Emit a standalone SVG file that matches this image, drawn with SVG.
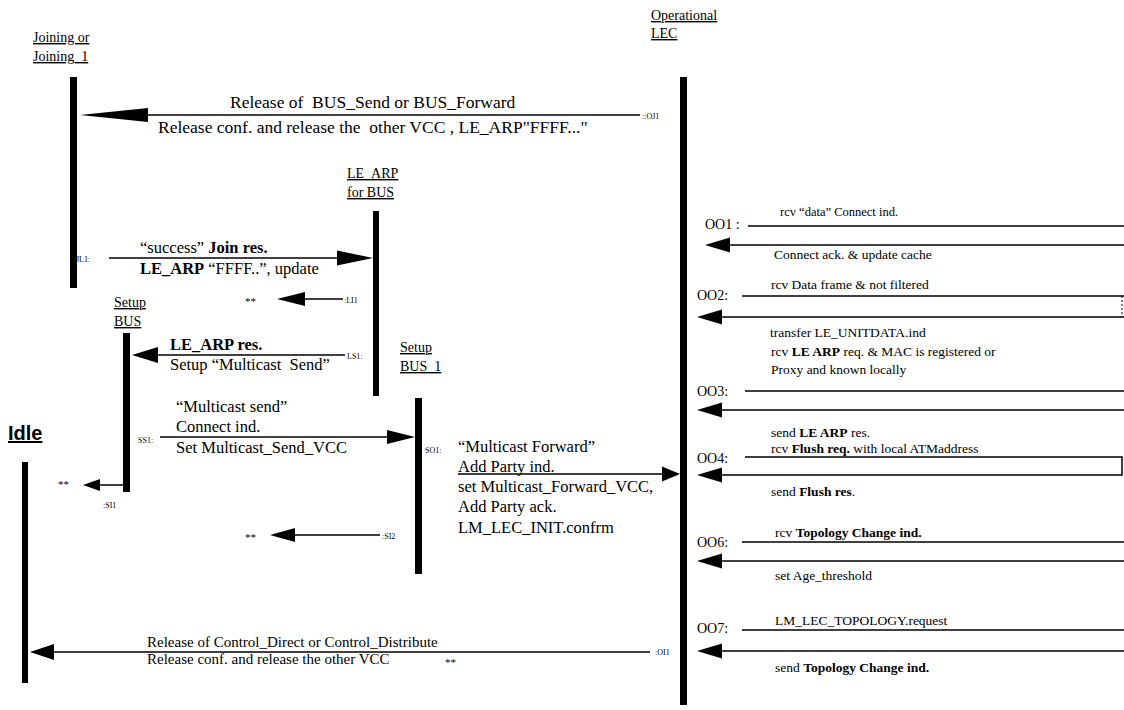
<svg xmlns="http://www.w3.org/2000/svg" width="1124" height="710" viewBox="0 0 1124 710">
<style>
text{font-family:"Liberation Serif","Times New Roman",serif;fill:#000;white-space:pre}
.t{font-size:16.5px}
.r{font-size:13.5px}
.s{font-size:8px}
.h{font-size:14px;text-decoration:underline}
.b{font-weight:bold}
.idle{font-family:"Liberation Sans",Arial,sans-serif;font-size:20px;font-weight:bold;text-decoration:underline}
.bar{fill:#000}
.ln{stroke:#000;stroke-width:1.5;fill:none}
.ah{fill:#000}
</style>
<rect width="1124" height="710" fill="#fff"/>
<g id="joining">
<text class="h" x="33" y="42">Joining or</text>
<text class="h" x="33" y="61">Joining_1</text>
<rect class="bar" x="70" y="77" width="7" height="211"/>
</g>
<g id="operational-lec">
<text class="h" x="651" y="20">Operational</text>
<text class="h" x="651" y="38">LEC</text>
<rect class="bar" x="680" y="77" width="7" height="628"/>
</g>
<g id="le-arp-for-bus">
<text class="h" x="347" y="178">LE_ARP</text>
<text class="h" x="347" y="197">for BUS</text>
<rect class="bar" x="373" y="211" width="6" height="185"/>
</g>
<g id="setup-bus">
<text class="h" x="114" y="307">Setup</text>
<text class="h" x="114" y="326">BUS</text>
<rect class="bar" x="123" y="333" width="7" height="159"/>
</g>
<g id="setup-bus-1">
<text class="h" x="400" y="352">Setup</text>
<text class="h" x="400" y="371">BUS_1</text>
<rect class="bar" x="415" y="398" width="7" height="176"/>
</g>
<g id="idle">
<text class="idle" x="8" y="440">Idle</text>
<rect class="bar" x="22" y="462" width="6" height="221"/>
</g>
<g id="connectors">
<!-- OJ1 -->
<line class="ln" x1="100" y1="115" x2="640" y2="115"/>
<polygon class="ah" points="80,115 148,108 148,122"/>
<text x="230" y="108" style="font-size:17.5px">Release of  BUS_Send or BUS_Forward</text>
<text x="158" y="133" style="font-size:17.5px">Release conf. and release the  other VCC , LE_ARP"FFFF..."</text>
<text class="s" x="642" y="119">::OJ1</text>
<!-- JL1 -->
<line class="ln" x1="109" y1="258" x2="340" y2="258"/>
<polygon class="ah" points="373,258 337,250.5 337,265.5"/>
<text class="s" x="76" y="262">JL1:</text>
<text class="t" x="140" y="253">“success” <tspan class="b">Join res.</tspan></text>
<text class="t" x="140" y="274"><tspan class="b">LE_ARP</tspan> “FFFF..”, update</text>
<!-- LI1 -->
<line class="ln" x1="303" y1="299" x2="343" y2="299"/>
<polygon class="ah" points="277,299 305,292 305,306"/>
<text class="s" x="344" y="303">:LI1</text>
<text x="245" y="305" style="font-size:11px">**</text>
<!-- LS1 -->
<line class="ln" x1="156" y1="355" x2="345" y2="355"/>
<polygon class="ah" points="132,355 158,347 158,363"/>
<text class="s" x="347" y="359">LS1:</text>
<text class="t b" x="170" y="350">LE_ARP res.</text>
<text class="t" x="170" y="370">Setup “Multicast  Send”</text>
<!-- SS1 -->
<line class="ln" x1="160" y1="437" x2="390" y2="437"/>
<polygon class="ah" points="415,437 387,430 387,444"/>
<text class="s" x="138" y="443">SS1:</text>
<text class="t" x="176" y="412">“Multicast send”</text>
<text class="t" x="176" y="432">Connect ind.</text>
<text class="t" x="176" y="453">Set Multicast_Send_VCC</text>
<!-- SI1 -->
<line class="ln" x1="98" y1="485" x2="124" y2="485"/>
<polygon class="ah" points="83,485 100,479 100,491"/>
<text class="s" x="103" y="508">:SI1</text>
<text x="58" y="488" style="font-size:11px">**</text>
<!-- SI2 -->
<line class="ln" x1="293" y1="535" x2="380" y2="535"/>
<polygon class="ah" points="270,535 295,528 295,542"/>
<text class="s" x="382" y="539">:SI2</text>
<text x="245" y="541" style="font-size:11px">**</text>
<!-- SO1 -->
<line class="ln" x1="458" y1="474" x2="664" y2="474"/>
<polygon class="ah" points="680,474 662,466.5 662,481.5"/>
<text class="s" x="425" y="453">SO1:</text>
<text class="t" x="458" y="452">“Multicast Forward”</text>
<text class="t" x="458" y="472">Add Party ind.</text>
<text class="t" x="458" y="492">set Multicast_Forward_VCC,</text>
<text class="t" x="458" y="512">Add Party ack.</text>
<text class="t" x="458" y="533">LM_LEC_INIT.confrm</text>
<!-- OI1 -->
<line class="ln" x1="50" y1="652" x2="650" y2="652"/>
<polygon class="ah" points="30,652 54,644 54,660"/>
<text x="147" y="647" style="font-size:15px">Release of Control_Direct or Control_Distribute</text>
<text x="147" y="664" style="font-size:15px">Release conf. and release the other VCC</text>
<text x="445" y="666" style="font-size:11px">**</text>
<text class="s" x="655" y="655">:OI1</text>
<!-- O01 -->
<text class="r" x="705" y="229" style="font-size:14px">OO1 :</text>
<line class="ln" x1="748" y1="226" x2="1124" y2="226"/>
<line class="ln" x1="720" y1="245" x2="1124" y2="245"/>
<polygon class="ah" points="705,245 730,237.5 730,252.5"/>
<text class="r" x="780" y="216" style="font-size:12.5px">rcv “data” Connect ind.</text>
<text class="r" x="774" y="259">Connect ack. &amp; update cache</text>
<!-- O02 -->
<text class="r" x="697" y="300" style="font-size:14px">OO2:</text>
<line class="ln" x1="742" y1="296" x2="1124" y2="296"/>
<line class="ln" x1="1122" y1="296" x2="1122" y2="317" style="stroke-width:1;stroke-dasharray:2 2"/>
<line class="ln" x1="712" y1="317" x2="1124" y2="317"/>
<polygon class="ah" points="697,317 722,309.5 722,324.5"/>
<text class="r" x="771" y="289">rcv Data frame &amp; not filtered</text>
<text class="r" x="770" y="337">transfer LE_UNITDATA.ind</text>
<!-- O03 -->
<text class="r" x="771" y="356">rcv <tspan class="b">LE ARP</tspan> req. &amp; MAC is registered or</text>
<text class="r" x="771" y="374">Proxy and known locally</text>
<text class="r" x="697" y="396" style="font-size:14px">OO3:</text>
<line class="ln" x1="745" y1="391" x2="1124" y2="391"/>
<line class="ln" x1="712" y1="410" x2="1124" y2="410"/>
<polygon class="ah" points="697,410 722,402.5 722,417.5"/>
<text class="r" x="771" y="437">send <tspan class="b">LE ARP</tspan> res.</text>
<!-- O04 -->
<text class="r" x="771" y="453">rcv <tspan class="b">Flush req.</tspan> with local ATMaddress</text>
<text class="r" x="697" y="463" style="font-size:14px">OO4:</text>
<polyline class="ln" points="745,457 1122,457 1122,475 712,475"/>
<polygon class="ah" points="697,475 722,467.5 722,482.5"/>
<text class="r" x="771" y="496">send <tspan class="b">Flush res</tspan>.</text>
<!-- O06 -->
<text class="r" x="775" y="537">rcv <tspan class="b">Topology Change ind.</tspan></text>
<text class="r" x="697" y="547" style="font-size:14px">OO6:</text>
<line class="ln" x1="742" y1="542" x2="1124" y2="542"/>
<line class="ln" x1="712" y1="561" x2="1124" y2="561"/>
<polygon class="ah" points="697,561 722,553.5 722,568.5"/>
<text class="r" x="775" y="580">set Age_threshold</text>
<!-- O07 -->
<text class="r" x="775" y="625">LM_LEC_TOPOLOGY.request</text>
<text class="r" x="697" y="633" style="font-size:14px">OO7:</text>
<line class="ln" x1="742" y1="630" x2="1124" y2="630"/>
<line class="ln" x1="712" y1="651" x2="1124" y2="651"/>
<polygon class="ah" points="697,651 722,643.5 722,658.5"/>
<text class="r" x="775" y="672">send <tspan class="b">Topology Change ind.</tspan></text>
</g>
</svg>
